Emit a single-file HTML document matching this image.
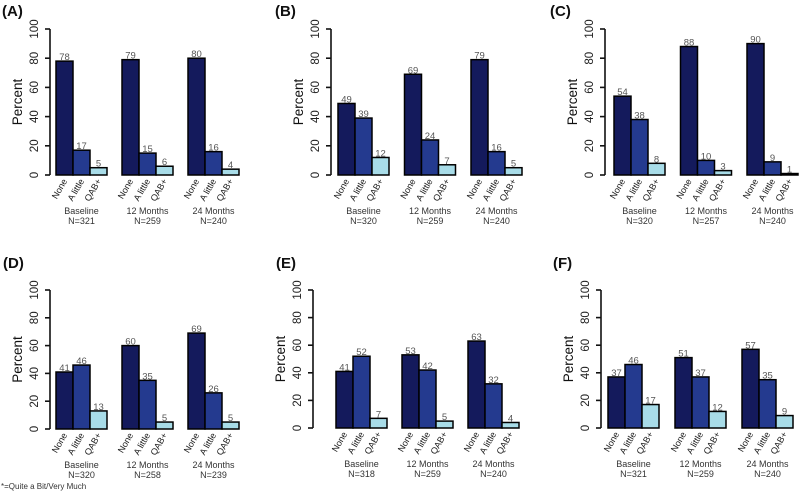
<!DOCTYPE html>
<html><head><meta charset="utf-8"><style>
body{margin:0;background:#fff;}
svg{display:block;font-family:"Liberation Sans",sans-serif;}
</style></head><body>
<svg id="c" width="800" height="494" viewBox="0 0 800 494"></svg>
<script>
const panelNames=["A","B","C","D","E","F"];
const categories=["None","A little","QAB+"];
const timepoints=["Baseline","12 Months","24 Months"];
const valuesA=[[78,17,5],[79,15,6],[80,16,4]];
const valuesB=[[49,39,12],[69,24,7],[79,16,5]];
const valuesC=[[54,38,8],[88,10,3],[90,9,1]];
const valuesD=[[41,46,13],[60,35,5],[69,26,5]];
const valuesE=[[41,52,7],[53,42,5],[63,32,4]];
const valuesF=[[37,46,17],[51,37,12],[57,35,9]];
const nA=[321,259,240],nB=[320,259,240],nC=[320,257,240],nD=[320,258,239],nE=[318,259,240],nF=[321,259,240];
const yTicks=[0,20,40,60,80,100];
const allValues=[valuesA,valuesB,valuesC,valuesD,valuesE,valuesF];
const allN=[nA,nB,nC,nD,nE,nF];
const layout=[
 {ax:50,x0:56,step:66,y0:175,y1:29,tx:2,ty:16},
 {ax:331,x0:338,step:66.5,y0:175,y1:29,tx:275,ty:16},
 {ax:605,x0:614,step:66.5,y0:175,y1:29,tx:550,ty:16},
 {ax:50,x0:56,step:66,y0:429,y1:290,tx:3,ty:268},
 {ax:313,x0:336,step:66,y0:428,y1:290,tx:276,ty:268},
 {ax:601,x0:608,step:67,y0:428,y1:290,tx:553,ty:268}];
const colors=["#141a5c","#243a8f","#a8dce8"];
const NS="http://www.w3.org/2000/svg";
const svg=document.getElementById("c");
function mk(t,a,p,txt){const e=document.createElementNS(NS,t);for(const k in a)e.setAttribute(k,a[k]);if(txt!==undefined)e.textContent=txt;(p||svg).appendChild(e);return e;}
const BW=17;
panelNames.forEach((pn,pi)=>{
 const L=layout[pi];
 const g=mk("g",{});
 
 
 const yS=v=>L.y0-(L.y0-L.y1)*v/100;
 const t=mk("text",{x:L.tx,y:L.ty,"font-size":15,"font-weight":"bold",fill:"#111"},g,"("+pn+")");
 
 
 const axl=mk("line",{x1:L.ax,x2:L.ax,y1:L.y1,y2:L.y0,stroke:"#111","stroke-width":1.6},g);
 
 
 yTicks.forEach(v=>{
  const y=yS(v);
  mk("line",{x1:L.ax-5,x2:L.ax,y1:y,y2:y,stroke:"#111","stroke-width":1.6},g);
  const tl=mk("text",{transform:`translate(${L.ax-12},${y}) rotate(-90)`,"text-anchor":"middle","font-size":11.5,fill:"#222"},g,v);
  
  
 });
 const yt=mk("text",{transform:`translate(${L.ax-28},${(L.y0+L.y1)/2}) rotate(-90)`,"text-anchor":"middle","font-size":13.5,fill:"#111"},g,"Percent");
 
 
 const vals=allValues[pi];
 vals.forEach((grp,gi)=>{
  const gx=L.x0+gi*L.step;
  grp.forEach((v,ci)=>{
   const x=gx+ci*BW;
   const r=mk("rect",{x:x,y:yS(v),width:BW,height:L.y0-yS(v),fill:colors[ci],stroke:"#000","stroke-width":1.5},g);
   
   
   const vl=mk("text",{x:x+BW/2,y:yS(v)-1,"text-anchor":"middle","font-size":9.5,fill:"#555"},g,v);
   
   
   const cl=mk("text",{transform:`translate(${x+BW/2+3},${L.y0+6}) rotate(-60)`,"text-anchor":"end","font-size":9,fill:"#222"},g,categories[ci]);
   
   
  });
  const cx=gx+BW*1.5;
  const gl=mk("text",{x:cx,y:L.y0+39,"text-anchor":"middle","font-size":9,fill:"#333"},g,timepoints[gi]);
  
  
  const nl=mk("text",{x:cx,y:L.y0+49,"text-anchor":"middle","font-size":9,fill:"#333"},g,"N="+allN[pi][gi]);
  
  
 });
});
const fn=mk("text",{x:1,y:489,"font-size":8,fill:"#333"},svg,"*=Quite a Bit/Very Much");


</script>
</body></html>
